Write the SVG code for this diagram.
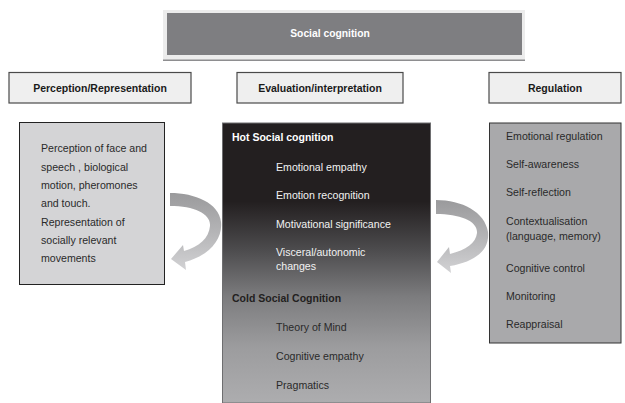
<svg xmlns="http://www.w3.org/2000/svg" width="625" height="403" viewBox="0 0 625 403">
  <style>
    text { font-family: "Liberation Sans", Arial, sans-serif; }
    .hdr { fill: #efefef; stroke: #4a4a4a; stroke-width: 1.2; }
    .hdr-t { font-size: 10.5px; font-weight: bold; fill: #1a1a1a; text-anchor: middle; }
    .body { font-size: 10.6px; fill: #2a2a2a; }
    .light { font-size: 10.6px; fill: #f2f2f2; }
    .bold-w { font-size: 10.5px; font-weight: bold; fill: #ffffff; }
    .bold-d { font-size: 10.5px; font-weight: bold; fill: #231f20; }
  </style>
  <defs>
    <linearGradient id="evalFill" x1="0" y1="0" x2="0" y2="1">
      <stop offset="0" stop-color="#231f20"/>
      <stop offset="0.28" stop-color="#231f20"/>
      <stop offset="0.45" stop-color="#4c4b4d"/>
      <stop offset="0.62" stop-color="#7c7c7e"/>
      <stop offset="0.8" stop-color="#9c9c9e"/>
      <stop offset="1" stop-color="#adadaf"/>
    </linearGradient>
    <linearGradient id="arrowFill" x1="0" y1="0" x2="0" y2="1">
      <stop offset="0" stop-color="#9a9a9c"/>
      <stop offset="0.5" stop-color="#b4b4b6"/>
      <stop offset="1" stop-color="#d2d2d4"/>
    </linearGradient>
  </defs>

  <rect width="625" height="403" fill="#ffffff"/>

  <!-- title -->
  <g id="social-cognition">
    <rect x="163" y="10" width="362" height="50" fill="#ececec"/>
    <rect x="163" y="59.5" width="362" height="1.5" fill="#8e8e90"/>
    <rect x="167" y="13" width="355" height="42" fill="#7e7e81"/>
    <text x="330" y="36.5" class="bold-w" style="font-size:10.3px" text-anchor="middle">Social cognition</text>
  </g>

  <!-- column headers -->
  <g id="perception-header">
    <rect x="9" y="72.5" width="182" height="30.5" class="hdr"/>
    <text x="100" y="91.5" class="hdr-t">Perception/Representation</text>
  </g>
  <g id="evaluation-header">
    <rect x="237" y="72.5" width="166" height="30.5" class="hdr"/>
    <text x="320" y="91.5" class="hdr-t">Evaluation/interpretation</text>
  </g>
  <g id="regulation-header">
    <rect x="489" y="72.5" width="132" height="30.5" class="hdr"/>
    <text x="555" y="91.5" class="hdr-t">Regulation</text>
  </g>

  <!-- perception / representation -->
  <g id="perception">
    <rect x="19.5" y="122.5" width="145" height="162" fill="#d4d4d6" stroke="#222" stroke-width="1"/>
    <text class="body" x="41" y="152">Perception of face and</text>
    <text class="body" x="41" y="170.5">speech , biological</text>
    <text class="body" x="41" y="189">motion, pheromones</text>
    <text class="body" x="41" y="207">and touch.</text>
    <text class="body" x="41" y="225.5">Representation of</text>
    <text class="body" x="41" y="244">socially relevant</text>
    <text class="body" x="41" y="262">movements</text>
  </g>

  <!-- evaluation / interpretation -->
  <g id="evaluation">
    <rect x="222.5" y="123" width="208" height="280" fill="url(#evalFill)" stroke="#6e6e70" stroke-width="1"/>
    <text class="bold-w" x="232" y="141">Hot Social cognition</text>
    <text class="light" x="276" y="171">Emotional empathy</text>
    <text class="light" x="276" y="199">Emotion recognition</text>
    <text class="light" x="276" y="228">Motivational significance</text>
    <text class="light" x="276" y="256">Visceral/autonomic</text>
    <text class="light" x="276" y="270">changes</text>
    <text class="bold-d" x="232" y="302">Cold Social Cognition</text>
    <text class="body" x="276" y="331">Theory of Mind</text>
    <text class="body" x="276" y="360">Cognitive empathy</text>
    <text class="body" x="276" y="389">Pragmatics</text>
  </g>

  <!-- regulation -->
  <g id="regulation">
    <rect x="489.5" y="123" width="131.5" height="220" fill="#a9a9ab" stroke="#333" stroke-width="1"/>
    <text class="body" x="506" y="140">Emotional regulation</text>
    <text class="body" x="506" y="168">Self-awareness</text>
    <text class="body" x="506" y="196">Self-reflection</text>
    <text class="body" x="506" y="225">Contextualisation</text>
    <text class="body" x="506" y="240">(language, memory)</text>
    <text class="body" x="506" y="272">Cognitive control</text>
    <text class="body" x="506" y="300">Monitoring</text>
    <text class="body" x="506" y="328">Reappraisal</text>
  </g>

  <!-- curved feedback arrows -->
  <g id="connectors" fill="url(#arrowFill)">
    <path d="M170,193 C195,193 219,203 221,222 C223,240 208,256 185,262 L186,270 L171,259 L183,245 L184,251 C199,247 209,238 210,226 C211,214 195,206 170,206 Z"/>
    <path d="M436,200 C462,200 485,212 488,232 C490,250 475,262 450,266 L451,273 L437,262 L449,247 L450,254 C466,250 476,243 477,233 C478,221 460,214 436,214 Z"/>
  </g>
</svg>
